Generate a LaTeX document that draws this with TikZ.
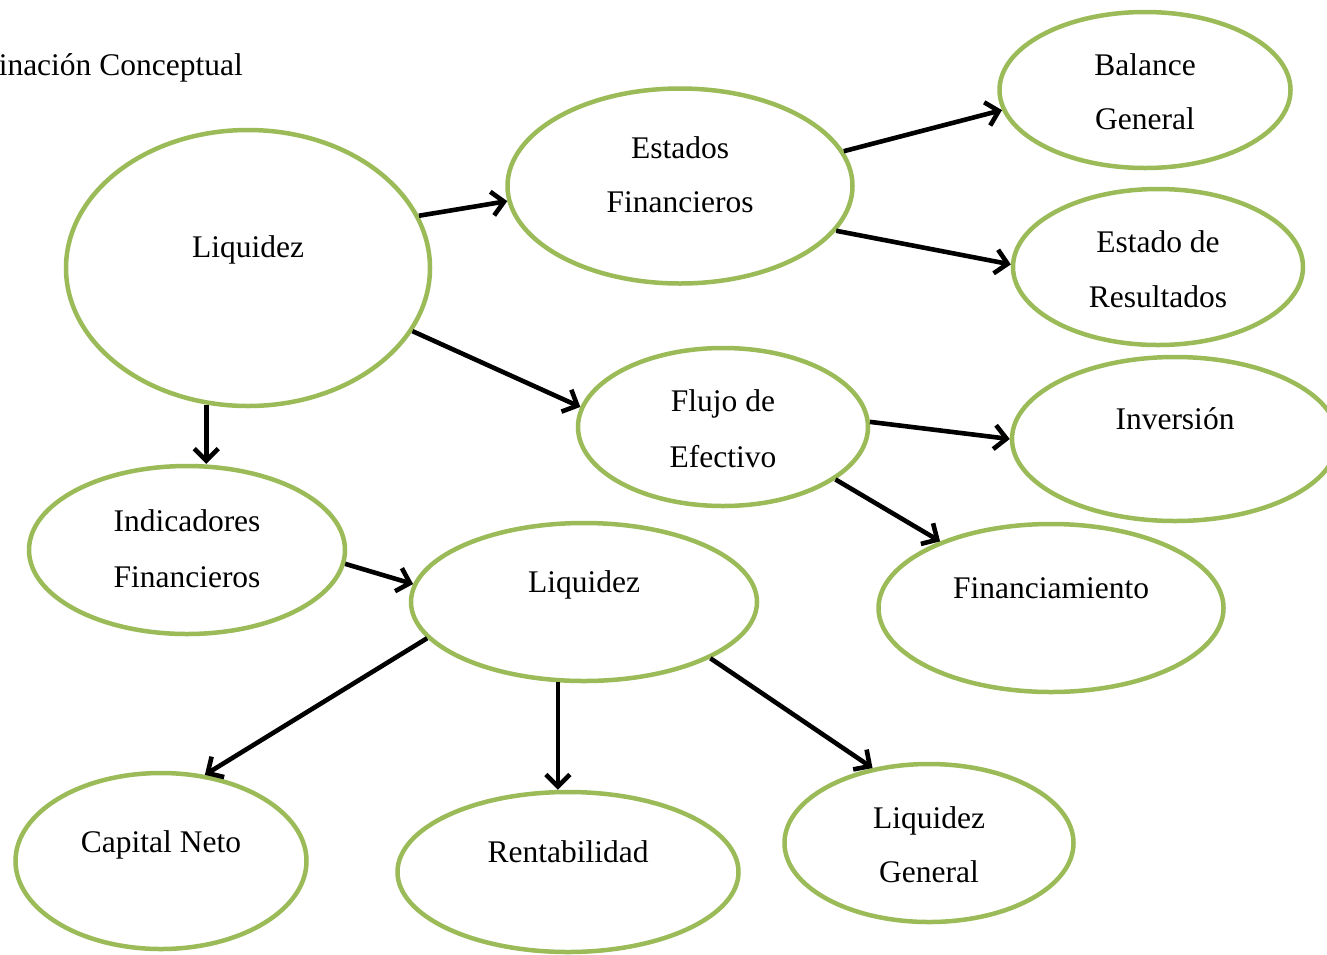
\documentclass[tikz,border=0pt]{standalone}
\usepackage{fontspec}
\setmainfont{Liberation Serif}
\usetikzlibrary{shapes.geometric,arrows.meta}
\definecolor{ellgreen}{HTML}{9BBB59}
\begin{document}
\begin{tikzpicture}[x=1pt,y=-1pt,
  ell/.style 2 args={ellipse, draw=ellgreen, line width=4.5pt, fill=white, inner sep=0pt,
    minimum width=#1pt, minimum height=#2pt},
  lbl/.style={anchor=base, inner sep=0pt, font=\fontsize{31.5}{36}\selectfont},
  arr/.style={line width=4.6pt, -{Straight Barb[length=12pt,width=24pt,line width=4.6pt]}}]
\useasboundingbox (0,0) rectangle (1327,954);
\fill[white] (0,0) rectangle (1327,954);
% title
\node[lbl, anchor=base east] (title) at (243,75) {inación Conceptual};
% ellipses
\node[ell={364}{276}] (liq) at (248,268) {};
\node[ell={345}{195}] (est) at (680,186) {};
\node[ell={291}{156}] (bal) at (1145,90) {};
\node[ell={290}{156}] (res) at (1158,267) {};
\node[ell={290}{158}] (flu) at (723,427) {};
\node[ell={326}{164}] (inv) at (1175,439) {};
\node[ell={345}{168}] (fin) at (1051,608) {};
\node[ell={316}{168}] (ind) at (187,550) {};
\node[ell={346}{158}] (liqb) at (584,602) {};
\node[ell={291}{176}] (cap) at (161,861) {};
\node[ell={341}{160}] (ren) at (568,872) {};
\node[ell={289}{158}] (gen) at (929,843) {};
% texts
\node[lbl] (tliq) at (248,257) {Liquidez};
\node[lbl] (test1) at (680,158) {Estados};
\node[lbl] (test2) at (680,212) {Financieros};
\node[lbl] (tbal1) at (1145,75) {Balance};
\node[lbl] (tbal2) at (1145,129) {General};
\node[lbl] (tres1) at (1158,252) {Estado de};
\node[lbl] (tres2) at (1158,307) {Resultados};
\node[lbl] (tflu1) at (723,411) {Flujo de};
\node[lbl] (tflu2) at (723,467) {Efectivo};
\node[lbl] (tinv) at (1175,429) {Inversión};
\node[lbl] (tfin) at (1051,598) {Financiamiento};
\node[lbl] (tind1) at (187,531) {Indicadores};
\node[lbl] (tind2) at (187,587) {Financieros};
\node[lbl] (tliqb) at (584,592) {Liquidez};
\node[lbl] (tcap) at (161,852) {Capital Neto};
\node[lbl] (tren) at (568,862) {Rentabilidad};
\node[lbl] (tgen1) at (929,828) {Liquidez};
\node[lbl] (tgen2) at (929,882) {General};
% arrows
\draw[arr] (liq.17) -- (est.185);
\draw[arr] (est.12) -- (bal.188);
\draw[arr] (est.-16) -- (res.179);
\draw[arr] (liq.-21) -- (flu.172);
\draw[arr] (liq.253) -- (liq.253 |- ind.north);
\draw[arr] (flu.2) -- (inv.180);
\draw[arr] (flu.-25) -- (fin.149);
\draw[arr] (ind.-5) -- (liqb.174);
\draw[arr] (liqb.193) -- (cap.63);
\draw[arr] (liqb.252) -- (liqb.252 |- ren.north);
\draw[arr] (liqb.-24) -- (gen.127);
\end{tikzpicture}
\end{document}
